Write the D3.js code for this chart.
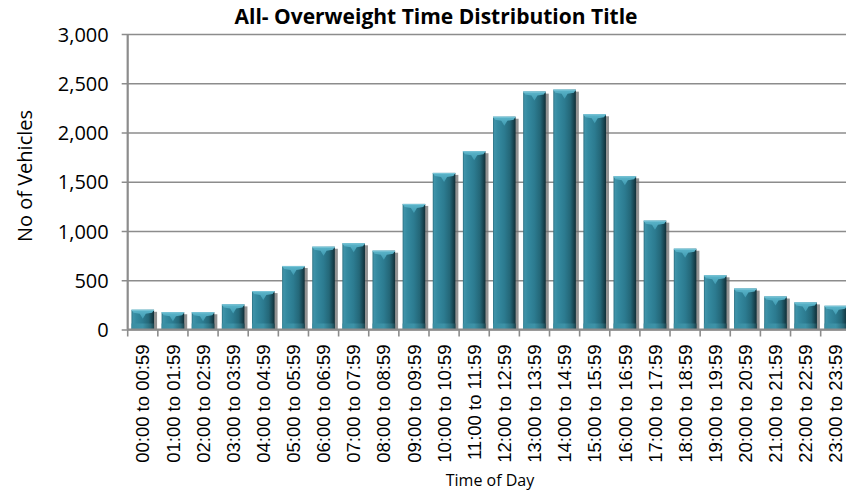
<!DOCTYPE html>
<html>
<head>
<meta charset="utf-8">
<script src="https://cdn.jsdelivr.net/npm/d3@7"></script>
<style>
  html, body { margin: 0; padding: 0; background: #ffffff; }
  svg { display: block; }
</style>
</head>
<body>
<svg id="chart" width="846" height="494"></svg>
<script>
// Hourly time bands
const categories = [
  "00:00 to 00:59", "01:00 to 01:59", "02:00 to 02:59", "03:00 to 03:59",
  "04:00 to 04:59", "05:00 to 05:59", "06:00 to 06:59", "07:00 to 07:59",
  "08:00 to 08:59", "09:00 to 09:59", "10:00 to 10:59", "11:00 to 11:59",
  "12:00 to 12:59", "13:00 to 13:59", "14:00 to 14:59", "15:00 to 15:59",
  "16:00 to 16:59", "17:00 to 17:59", "18:00 to 18:59", "19:00 to 19:59",
  "20:00 to 20:59", "21:00 to 21:59", "22:00 to 22:59", "23:00 to 23:59"
];

// Overweight vehicles counted in each band
const vehicles = [
  200, 175, 175, 255, 390, 645, 840, 875, 800, 1275, 1590, 1810,
  2160, 2415, 2435, 2185, 1555, 1105, 820, 550, 415, 335, 275, 240
];

const yTicks = [0, 500, 1000, 1500, 2000, 2500, 3000];

const title = "All- Overweight Time Distribution Title";
const yTitle = "No of Vehicles";
const xTitle = "Time of Day";

const svg = d3.select("#chart");
const plot = { left: 127.7, right: 850.8, top: 34, bottom: 329.5 };

const x = d3.scaleBand()
  .domain(categories)
  .range([plot.left, plot.right])
  .paddingInner(0.25)
  .paddingOuter(0.125);

const y = d3.scaleLinear()
  .domain([0, 3000])
  .range([plot.bottom, plot.top]);

// Gradients for the bevelled bar look
const defs = svg.append("defs");
const body = defs.append("linearGradient").attr("id", "barBody")
  .attr("x1", "0").attr("x2", "1").attr("y1", "0").attr("y2", "0");
[[0, "#2b6f80"], [0.07, "#3f93a9"], [0.2, "#358aa0"], [0.5, "#2c7b90"],
 [0.75, "#246778"], [0.88, "#1a4a57"], [1, "#0f2e37"]]
  .forEach(([o, c]) => body.append("stop").attr("offset", o).attr("stop-color", c));

const cap = defs.append("linearGradient").attr("id", "barCap")
  .attr("x1", "0").attr("x2", "0").attr("y1", "0").attr("y2", "1");
[[0, "#5db6cb"], [1, "#3f9ab1"]]
  .forEach(([o, c]) => cap.append("stop").attr("offset", o).attr("stop-color", c));

const foot = defs.append("linearGradient").attr("id", "barFoot")
  .attr("x1", "0").attr("x2", "1").attr("y1", "0").attr("y2", "0");
[[0, "#3a8ea2"], [0.5, "#3f95aa"], [0.85, "#2c6d7c"], [1, "#1c4650"]]
  .forEach(([o, c]) => foot.append("stop").attr("offset", o).attr("stop-color", c));

// Horizontal gridlines with outside ticks on the value axis
const yAxis = d3.axisLeft(y)
  .tickValues(yTicks)
  .tickSize(-(846 - plot.left))
  .tickFormat(d3.format(","));

const gy = svg.append("g")
  .attr("transform", `translate(${plot.left},0)`)
  .call(yAxis);
gy.select(".domain").remove();
gy.selectAll(".tick line")
  .attr("x1", -6)
  .attr("stroke", "#8c8c8c")
  .attr("stroke-width", 1.6);
gy.selectAll(".tick text")
  .attr("x", -19)
  .attr("dy", "0.36em")
  .attr("fill", "#000")
  .style("font-family", "'Open Sans', sans-serif")
  .style("font-size", "20px");

// Bars
const bars = svg.append("g").selectAll("g.bar")
  .data(vehicles.map((v, i) => ({ cat: categories[i], v })))
  .join("g").attr("class", "bar");

bars.append("rect")
  .attr("x", d => x(d.cat) + 3)
  .attr("y", d => y(d.v) + 2)
  .attr("width", x.bandwidth())
  .attr("height", d => plot.bottom - y(d.v) - 2)
  .attr("fill", "#6f6f6f")
  .attr("opacity", 0.75);

bars.append("rect")
  .attr("x", d => x(d.cat))
  .attr("y", d => y(d.v))
  .attr("width", x.bandwidth())
  .attr("height", d => plot.bottom - y(d.v))
  .attr("fill", "url(#barBody)");

bars.append("rect")
  .attr("x", d => x(d.cat))
  .attr("y", plot.bottom - 6)
  .attr("width", x.bandwidth())
  .attr("height", 6)
  .attr("fill", "url(#barFoot)")
  .attr("opacity", 0.9);

bars.append("polygon")
  .attr("points", d => {
    const x0 = x(d.cat), x1 = x0 + x.bandwidth(), xc = (x0 + x1) / 2, y0 = y(d.v);
    return [[x0, y0], [x1, y0], [x1 - 2, y0 + 3], [xc + 3, y0 + 4], [xc, y0 + 9],
            [xc - 3, y0 + 4], [x0 + 2, y0 + 3]].map(p => p.join(",")).join(" ");
  })
  .attr("fill", "url(#barCap)");

bars.append("line")
  .attr("x1", d => x(d.cat)).attr("x2", d => x(d.cat) + x.bandwidth())
  .attr("y1", d => y(d.v) + 0.5).attr("y2", d => y(d.v) + 0.5)
  .attr("stroke", "#7cc6d8").attr("stroke-width", 1);

// Category axis
const xAxis = d3.axisBottom(x).tickSize(0).tickFormat(d => d);
const gx = svg.append("g")
  .attr("transform", `translate(0,${plot.bottom})`)
  .call(xAxis);
gx.select(".domain").remove();
gx.selectAll(".tick text")
  .attr("transform", "rotate(-90)")
  .attr("text-anchor", "end")
  .attr("x", -15)
  .attr("y", 0)
  .attr("dy", "0.36em")
  .attr("fill", "#000")
  .style("font-family", "'Liberation Sans', Arial, sans-serif")
  .style("font-size", "18.5px");

// Tick marks at category boundaries
const step = x.step();
const bounds = d3.range(categories.length + 1).map(i => plot.left + i * step);
svg.append("g").selectAll("line")
  .data(bounds)
  .join("line")
  .attr("x1", d => d).attr("x2", d => d)
  .attr("y1", plot.bottom).attr("y2", plot.bottom + 7)
  .attr("stroke", "#8c8c8c").attr("stroke-width", 1.6);

// Axis lines
svg.append("line")
  .attr("x1", plot.left).attr("x2", 846)
  .attr("y1", plot.bottom).attr("y2", plot.bottom)
  .attr("stroke", "#8c8c8c").attr("stroke-width", 2);
svg.append("line")
  .attr("x1", plot.left).attr("x2", plot.left)
  .attr("y1", plot.top).attr("y2", plot.bottom)
  .attr("stroke", "#8c8c8c").attr("stroke-width", 2.2);

// Titles
svg.append("text")
  .attr("x", 436).attr("y", 24)
  .attr("text-anchor", "middle")
  .style("font-family", "'Open Sans', sans-serif")
  .style("font-weight", "bold")
  .style("font-size", "21px")
  .text(title);

svg.append("text")
  .attr("transform", "translate(32,176) rotate(-90)")
  .attr("text-anchor", "middle")
  .style("font-family", "'Open Sans', sans-serif")
  .style("font-size", "20px")
  .text(yTitle);

svg.append("text")
  .attr("x", 490).attr("y", 486)
  .attr("text-anchor", "middle")
  .style("font-family", "'Open Sans', sans-serif")
  .style("font-size", "16px")
  .text(xTitle);
</script>
</body>
</html>
